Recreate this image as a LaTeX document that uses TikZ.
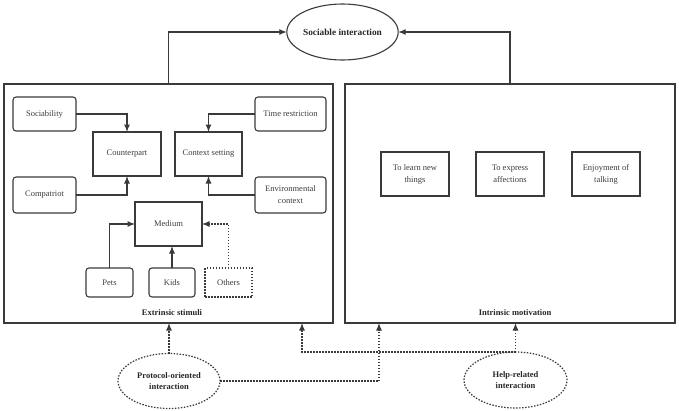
\documentclass[tikz,border=0pt]{standalone}
\usepackage{fontspec}
\setmainfont{Liberation Serif}
\usetikzlibrary{arrows.meta,shapes.geometric}
\definecolor{ln}{HTML}{3A3A3A}
\definecolor{tx}{HTML}{3C3C3C}
\begin{document}
\begin{tikzpicture}[x=1pt,y=-1pt,
  every node/.style={inner sep=0pt,outer sep=0pt,text=tx,font=\fontsize{8.5}{12}\selectfont,align=center},
  rbox/.style={draw=ln,line width=1.1pt,rounded corners=3pt},
  sbox/.style={draw=ln,line width=1.1pt},
  mbox/.style={draw=ln,line width=1.6pt},
  big/.style={draw=ln,line width=1.1pt},
  dotbox/.style={draw=ln,line width=1.2pt,dash pattern=on 1.5pt off 1.5pt},
  arr/.style={draw=ln,line width=1.1pt,-{Latex[length=7.5pt,width=6pt]}},
  darr/.style={draw=ln,line width=1.2pt,dash pattern=on 1.5pt off 1.5pt,-{Latex[length=7.5pt,width=6pt]}},
  dline/.style={draw=ln,line width=1.2pt,dash pattern=on 1.5pt off 1.5pt},
  bold/.style={font=\fontsize{8.5}{11}\selectfont\bfseries,text=black!85}
]
\useasboundingbox (0,0) rectangle (679,410);

% top ellipse
\node[ellipse,draw=ln,line width=1.1pt,minimum width=101pt,minimum height=56pt,bold,font=\fontsize{9.3}{11}\selectfont\bfseries] (soc) at (342.5,32) {Sociable interaction};

% big boxes
\node[big,minimum width=329pt,minimum height=239pt] (ext) at (168.5,203.5) {};
\node[big,minimum width=330pt,minimum height=239pt] (int) at (510,203.5) {};

\draw[arr] (ext.north) |- (soc.west);
\draw[arr] (int.north) |- (soc.east);

% left inner nodes
\node[rbox,minimum width=63pt,minimum height=34pt] (sociab) at (44.5,114) {Sociability};
\node[rbox,minimum width=71pt,minimum height=34pt] (time) at (290.5,114) {Time restriction};
\node[sbox,minimum width=68pt,minimum height=44pt] (cp) at (127,154) {Counterpart};
\node[sbox,minimum width=67pt,minimum height=44pt] (cs) at (208.5,154) {Context setting};
\node[rbox,minimum width=63pt,minimum height=36pt] (comp) at (44.5,195) {Compatriot};
\node[rbox,minimum width=71pt,minimum height=36pt] (env) at (290.5,195) {Environmental\\context};
\node[sbox,minimum width=67pt,minimum height=44pt] (med) at (168.5,224) {Medium};
\node[rbox,minimum width=47pt,minimum height=29pt] (pets) at (109.5,282.5) {Pets};
\node[rbox,minimum width=46pt,minimum height=29pt] (kids) at (172,282.5) {Kids};
\node[dotbox,minimum width=47pt,minimum height=29pt] (oth) at (228.5,282.5) {Others};

\draw[arr] (sociab.east) -| (cp.north);
\draw[arr] (comp.east) -| (cp.south);
\draw[arr] (time.west) -| (cs.north);
\draw[arr] (env.west) -| (cs.south);
\draw[arr] (pets.north) |- (med.west);
\draw[arr] (kids.north) -- (kids.north |- med.south);
\draw[darr] (oth.north) |- (med.east);

\node[bold] (extl) at (172,313) {Extrinsic stimuli};

% right inner nodes
\node[mbox,minimum width=68pt,minimum height=44pt] (learn) at (415,174) {To learn new\\things};
\node[mbox,minimum width=68pt,minimum height=44pt] (expr) at (510,174) {To express\\affections};
\node[mbox,minimum width=68pt,minimum height=44pt] (enj) at (606,174) {Enjoyment of\\talking};

\node[bold] (intl) at (515,313) {Intrinsic motivation};

% bottom ellipses
\node[ellipse,dline,minimum width=102pt,minimum height=55pt,bold] (proto) at (169,381) {Protocol-oriented\\interaction};
\node[ellipse,dline,minimum width=103pt,minimum height=56pt,bold] (help) at (515.5,380) {Help-related\\interaction};

\coordinate (pi) at (379,323);
\coordinate (he) at (302,323);
\coordinate (hi) at (515.5,323);

\draw[darr] (proto.north) -- (proto.north |- ext.south);
\draw[darr] (proto.east) -| (pi);
\draw[darr] (help.north) -- (hi);
\draw[darr] (help.north) -| (he);
\end{tikzpicture}
\end{document}
